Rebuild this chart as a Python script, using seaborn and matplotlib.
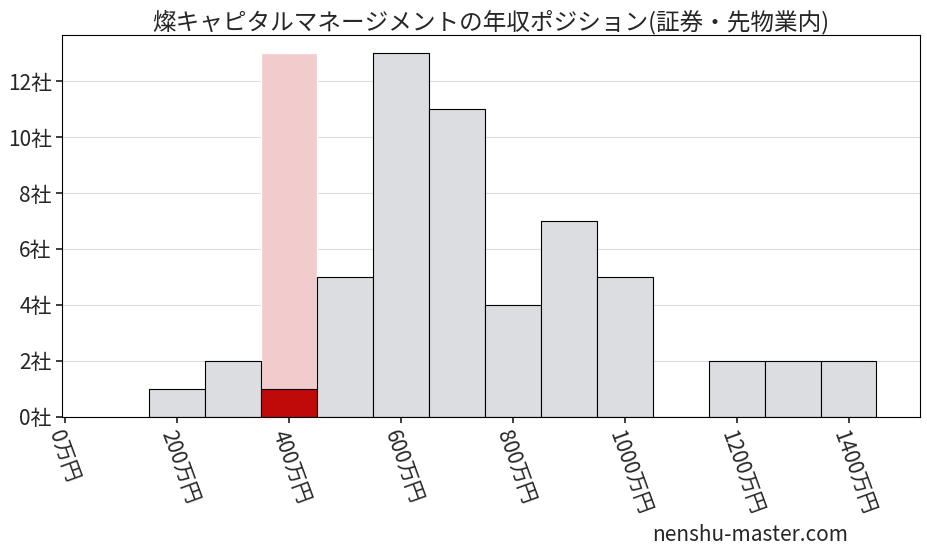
import matplotlib
matplotlib.use("Agg")
import matplotlib.pyplot as plt
import seaborn as sns
import pandas as pd

sns.set_theme(style="white")
plt.rcParams['font.family'] = ['Noto Sans CJK JP', 'DejaVu Sans']

centers = [200, 300, 400, 500, 600, 700, 800, 900, 1000, 1100, 1200, 1300, 1400]
counts = [1, 2, 1, 5, 13, 11, 4, 7, 5, 0, 2, 2, 2]
highlight_center = 400
highlight_height = 13
xticks = [0, 200, 400, 600, 800, 1000, 1200, 1400]
xlabels = [f"{v}万円" for v in xticks]
yticks = [0, 2, 4, 6, 8, 10, 12]
ylabels = [f"{v}社" for v in yticks]
title = "燦キャピタルマネージメントの年収ポジション(証券・先物業内)"

df = pd.DataFrame({"x": centers, "n": counts})
fig, ax = plt.subplots(figsize=(9.27, 5.57), dpi=100)
ax.bar([highlight_center], [highlight_height], width=100, color="#f2cccc", zorder=1)
colors = ["#c00a0a" if c == highlight_center else "#dcdde0" for c in centers]
ax.bar(df["x"], df["n"], width=100, color=colors, edgecolor="black", linewidth=0.8, zorder=2)
ax.set_xlim(-5, 1527)
ax.set_ylim(0, 13.65)
ax.set_xticks(xticks)
ax.set_xticklabels(xlabels, rotation=-70, fontsize=15, ha="left", rotation_mode="anchor")
ax.set_yticks(yticks)
ax.set_yticklabels(ylabels, fontsize=15)
ax.tick_params(axis="both", length=4, left=True, bottom=True)
ax.yaxis.grid(True, color="#dddddd", linewidth=0.8, zorder=0)
ax.set_axisbelow(True)
for s in ax.spines.values():
    s.set_color("black"); s.set_linewidth(0.8)
ax.set_title(title, fontsize=17, pad=4)
fig.text(0.915, 0.02, "nenshu-master.com", fontsize=15, ha="right", va="bottom")
fig.subplots_adjust(left=0.067, right=0.992, top=0.937, bottom=0.252)
fig.savefig("out.png", dpi=100)
